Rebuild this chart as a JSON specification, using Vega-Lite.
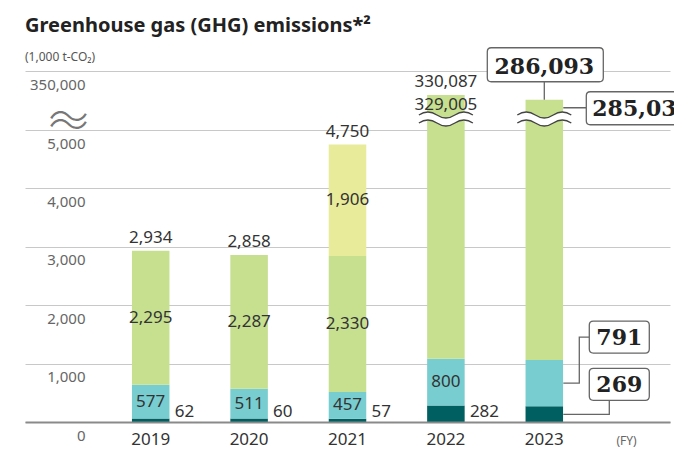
{
  "$schema": "https://vega.github.io/schema/vega-lite/v6.json",
  "width": 645,
  "height": 351,
  "autosize": {"type": "none"},
  "padding": {"left": 25, "top": 71, "right": 4, "bottom": 32},
  "background": "white",
  "title": {
    "text": "Greenhouse gas (GHG) emissions*²",
    "subtitle": "(1,000 t-CO₂)",
    "anchor": "start",
    "frame": "group",
    "offset": -18,
    "font": "Noto Sans",
    "fontSize": 20,
    "fontWeight": "bold",
    "color": "#222222",
    "subtitleFont": "Noto Sans",
    "subtitleFontSize": 12,
    "subtitleColor": "#555555",
    "subtitlePadding": 16
  },
  "config": {"view": {"stroke": null}},
  "data": {
    "values": [
      {"year": "2019", "cat": "Scope 1", "value": 62},
      {"year": "2019", "cat": "Scope 2", "value": 577},
      {"year": "2019", "cat": "Scope 3", "value": 2295},
      {"year": "2020", "cat": "Scope 1", "value": 60},
      {"year": "2020", "cat": "Scope 2", "value": 511},
      {"year": "2020", "cat": "Scope 3", "value": 2287},
      {"year": "2021", "cat": "Scope 1", "value": 57},
      {"year": "2021", "cat": "Scope 2", "value": 457},
      {"year": "2021", "cat": "Scope 3", "value": 2330},
      {"year": "2021", "cat": "Scope 3 (new categories)", "value": 1906},
      {"year": "2022", "cat": "Scope 1", "value": 282},
      {"year": "2022", "cat": "Scope 2", "value": 800},
      {"year": "2022", "cat": "Scope 3", "value": 329005},
      {"year": "2023", "cat": "Scope 1", "value": 269},
      {"year": "2023", "cat": "Scope 2", "value": 791},
      {"year": "2023", "cat": "Scope 3", "value": 285033}
    ]
  },
  "resolve": {"scale": {"shape": "independent"}},
  "layer": [
    {
      "mark": {"type": "bar", "width": {"band": 0.687}},
      "encoding": {
        "x": {
          "field": "year", "type": "nominal", "title": "(FY)",
          "scale": {"paddingInner": 0.445, "paddingOuter": 1},
          "axis": {
            "labelAngle": 0, "labelFont": "Noto Sans", "labelFontSize": 17, "labelColor": "#333333",
            "labelPadding": 9, "ticks": false, "domainColor": "#8a8a8a", "domainWidth": 2,
            "titleFont": "Noto Sans", "titleFontSize": 12, "titleFontWeight": "normal", "titleColor": "#666666",
            "titleX": 601, "titleY": 18, "titleAlign": "center", "titleBaseline": "middle", "zindex": 1
          }
        },
        "y": {
          "field": "value", "type": "quantitative", "stack": "zero", "title": null,
          "scale": {"domain": [0, 5000, 330087, 350000], "range": [351, 59, 24, 0], "nice": false, "zero": false},
          "axis": {
            "values": [0, 1000, 2000, 3000, 4000, 5000, 42000, 116000, 350000],
            "domain": false, "ticks": false, "tickSize": 0, "grid": true,
            "gridColor": "#c8c8c8", "gridWidth": 1,
            "gridOpacity": {"condition": {"test": "datum.value > 5000 && datum.value < 350000", "value": 0}, "value": 1},
            "labelExpr": "datum.value > 5000 && datum.value < 350000 ? '〜' : datum.label",
            "format": ",d",
            "labelFont": {"condition": {"test": "datum.value > 5000 && datum.value < 350000", "value": "Noto Sans CJK JP"}, "value": "Noto Sans"},
            "labelFontSize": {"condition": {"test": "datum.value > 5000 && datum.value < 350000", "value": 40}, "value": 15},
            "labelFontWeight": {"condition": {"test": "datum.value > 5000 && datum.value < 350000", "value": 300}, "value": "normal"},
            "labelBaseline": {"condition": {"test": "datum.value > 5000 && datum.value < 350000", "value": "middle"}, "value": "top"},
            "labelOffset": {"condition": {"test": "datum.value > 5000 && datum.value < 350000", "value": 0}, "value": 6},
            "labelPadding": {"condition": {"test": "datum.value > 5000 && datum.value < 350000", "value": -63}, "value": -60},
            "labelColor": {"condition": {"test": "datum.value > 5000 && datum.value < 350000", "value": "#777777"}, "value": "#666666"},
            "labelAlign": "right", "labelOverlap": false
          }
        },
        "color": {
          "field": "cat", "type": "nominal", "legend": null,
          "scale": {
            "domain": ["Scope 1", "Scope 2", "Scope 3", "Scope 3 (new categories)"],
            "range": ["#005f60", "#78cdd0", "#c6e08f", "#e8eb9a"]
          }
        },
        "order": {"field": "cat", "sort": "ascending"}
      }
    },
    {
      "transform": [{"filter": "datum.cat == 'Scope 3' && (datum.year == '2022' || datum.year == '2023')"}],
      "mark": {"type": "point", "shape": "M-27,-4 Q-18,-10 -9,-4 Q0,2 9,-4 Q18,-10 27,-4 L27,4 Q18,-2 9,4 Q0,10 -9,4 Q-18,-2 -27,4 Z", "size": 4, "filled": true, "fill": "white", "strokeWidth": 0, "opacity": 1},
      "encoding": {
        "x": {"field": "year", "type": "nominal"},
        "y": {"datum": 107000, "type": "quantitative"}
      }
    },
    {
      "transform": [{"filter": "datum.cat == 'Scope 3' && (datum.year == '2022' || datum.year == '2023')"}],
      "mark": {"type": "point", "shape": "M-27,-4 Q-18,-10 -9,-4 Q0,2 9,-4 Q18,-10 27,-4 M-27,4 Q-18,-2 -9,4 Q0,10 9,4 Q18,-2 27,4", "size": 4, "filled": false, "stroke": "#444444", "strokeWidth": 1.3, "opacity": 1},
      "encoding": {
        "x": {"field": "year", "type": "nominal"},
        "y": {"datum": 107000, "type": "quantitative"}
      }
    },
    {
      "transform": [
        {"stack": "value", "groupby": ["year"], "sort": [{"field": "cat", "order": "ascending"}], "as": ["v0", "v1"]},
        {"filter": "datum.year != '2023' && datum.cat != 'Scope 1' && !(datum.year == '2022' && datum.cat == 'Scope 3')"},
        {"fold": ["v0", "v1"], "as": ["end", "pos"]}
      ],
      "mark": {"type": "text", "font": "Noto Sans", "fontSize": 17, "color": "#333333", "baseline": "middle"},
      "encoding": {
        "x": {"field": "year", "type": "nominal"},
        "y": {"aggregate": "mean", "field": "pos", "type": "quantitative", "title": null},
        "text": {"field": "value", "type": "quantitative", "format": ","},
        "detail": {"field": "cat", "type": "nominal"}
      }
    },
    {
      "transform": [
        {"stack": "value", "groupby": ["year"], "sort": [{"field": "cat", "order": "ascending"}], "as": ["v0", "v1"]},
        {"filter": "datum.year == '2022' && datum.cat == 'Scope 3'"}
      ],
      "mark": {"type": "text", "font": "Noto Sans", "fontSize": 17, "color": "#333333", "baseline": "alphabetic", "dy": 15},
      "encoding": {
        "x": {"field": "year", "type": "nominal"},
        "y": {"field": "v1", "type": "quantitative", "title": null},
        "text": {"field": "value", "type": "quantitative", "format": ","}
      }
    },
    {
      "transform": [{"filter": "datum.cat == 'Scope 1' && datum.year != '2023'"}],
      "mark": {"type": "text", "font": "Noto Sans", "fontSize": 17, "color": "#333333", "baseline": "alphabetic", "align": "left", "dx": 24, "dy": -5},
      "encoding": {
        "x": {"field": "year", "type": "nominal"},
        "y": {"datum": 0, "type": "quantitative"},
        "text": {"field": "value", "type": "quantitative", "format": ","}
      }
    },
    {
      "transform": [{"filter": "datum.year != '2023'"}],
      "mark": {"type": "text", "font": "Noto Sans", "fontSize": 17, "color": "#333333", "baseline": "alphabetic", "dy": -8},
      "encoding": {
        "x": {"field": "year", "type": "nominal"},
        "y": {"aggregate": "sum", "field": "value", "type": "quantitative", "title": null},
        "text": {"aggregate": "sum", "field": "value", "type": "quantitative", "format": ","}
      }
    },
    {
      "transform": [
        {"stack": "value", "groupby": ["year"], "sort": [{"field": "cat", "order": "ascending"}], "as": ["v0", "v1"]},
        {"filter": "datum.year == '2023'"}
      ],
      "mark": {"type": "point", "size": 4, "filled": false, "stroke": "#666666", "strokeWidth": 1.3, "opacity": 1},
      "encoding": {
        "x": {"field": "year", "type": "nominal"},
        "y": {"field": "v1", "type": "quantitative", "title": null},
        "shape": {
          "field": "cat", "type": "nominal", "legend": null,
          "scale": {
            "domain": ["Scope 1", "Scope 2", "Scope 3"],
            "range": ["M19,8 L65,8 L65,-6", "M19,23 L35,23 L35,-23 L45,-23", "M0,-18 L0,0 M19,8 L42,8"]
          }
        }
      }
    },
    {
      "transform": [
        {"stack": "value", "groupby": ["year"], "sort": [{"field": "cat", "order": "ascending"}], "as": ["v0", "v1"]},
        {"filter": "datum.year == '2023'"}
      ],
      "mark": {"type": "point", "size": 4, "filled": true, "fill": "white", "stroke": "#666666", "strokeWidth": 1.3, "opacity": 1},
      "encoding": {
        "x": {"field": "year", "type": "nominal"},
        "y": {"field": "v1", "type": "quantitative", "title": null},
        "shape": {
          "field": "cat", "type": "nominal", "legend": null,
          "scale": {
            "domain": ["Scope 1", "Scope 2", "Scope 3"],
            "range": [
              "M49,-38 L101,-38 Q105,-38 105,-34 L105,-10 Q105,-6 101,-6 L49,-6 Q45,-6 45,-10 L45,-34 Q45,-38 49,-38 Z",
              "M49,-39 L101,-39 Q105,-39 105,-35 L105,-11 Q105,-7 101,-7 L49,-7 Q45,-7 45,-11 L45,-35 Q45,-39 49,-39 Z",
              "M-53,-52 L55,-52 Q59,-52 59,-48 L59,-22 Q59,-18 55,-18 L-53,-18 Q-57,-18 -57,-22 L-57,-48 Q-57,-52 -53,-52 Z M46,-8 L171,-8 Q175,-8 175,-4 L175,21 Q175,25 171,25 L46,25 Q42,25 42,21 L42,-4 Q42,-8 46,-8 Z"
            ]
          }
        }
      }
    },
    {
      "transform": [
        {"stack": "value", "groupby": ["year"], "sort": [{"field": "cat", "order": "ascending"}], "as": ["v0", "v1"]},
        {"filter": "datum.year == '2023' && datum.cat == 'Scope 3'"}
      ],
      "mark": {"type": "text", "font": "DejaVu Serif", "fontWeight": "bold", "fontSize": 22, "color": "#222222", "baseline": "middle", "dy": -33},
      "encoding": {
        "x": {"field": "year", "type": "nominal"},
        "y": {"field": "v1", "type": "quantitative", "title": null},
        "text": {"field": "v1", "type": "quantitative", "format": ","}
      }
    },
    {
      "transform": [
        {"stack": "value", "groupby": ["year"], "sort": [{"field": "cat", "order": "ascending"}], "as": ["v0", "v1"]},
        {"filter": "datum.year == '2023' && datum.cat == 'Scope 3'"}
      ],
      "mark": {"type": "text", "font": "DejaVu Serif", "fontWeight": "bold", "fontSize": 22, "color": "#222222", "baseline": "middle", "align": "left", "dx": 48, "dy": 9},
      "encoding": {
        "x": {"field": "year", "type": "nominal"},
        "y": {"field": "v1", "type": "quantitative", "title": null},
        "text": {"field": "value", "type": "quantitative", "format": ","}
      }
    },
    {
      "transform": [
        {"stack": "value", "groupby": ["year"], "sort": [{"field": "cat", "order": "ascending"}], "as": ["v0", "v1"]},
        {"filter": "datum.year == '2023' && datum.cat == 'Scope 2'"}
      ],
      "mark": {"type": "text", "font": "DejaVu Serif", "fontWeight": "bold", "fontSize": 22, "color": "#222222", "baseline": "middle", "dx": 75, "dy": -22},
      "encoding": {
        "x": {"field": "year", "type": "nominal"},
        "y": {"field": "v1", "type": "quantitative", "title": null},
        "text": {"field": "value", "type": "quantitative", "format": ","}
      }
    },
    {
      "transform": [
        {"stack": "value", "groupby": ["year"], "sort": [{"field": "cat", "order": "ascending"}], "as": ["v0", "v1"]},
        {"filter": "datum.year == '2023' && datum.cat == 'Scope 1'"}
      ],
      "mark": {"type": "text", "font": "DejaVu Serif", "fontWeight": "bold", "fontSize": 22, "color": "#222222", "baseline": "middle", "dx": 75, "dy": -21},
      "encoding": {
        "x": {"field": "year", "type": "nominal"},
        "y": {"field": "v1", "type": "quantitative", "title": null},
        "text": {"field": "value", "type": "quantitative", "format": ","}
      }
    }
  ]
}
